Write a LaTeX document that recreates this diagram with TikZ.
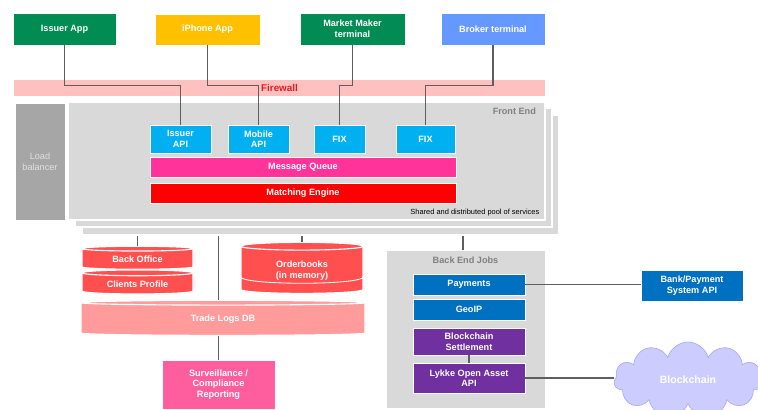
\documentclass[tikz,border=0pt]{standalone}
\usepackage{fontspec}
\setmainfont{Liberation Sans}
\usetikzlibrary{shapes.geometric,shapes.symbols}
\definecolor{appgreen}{HTML}{008C52}
\definecolor{appyellow}{HTML}{FFC000}
\definecolor{appblue}{HTML}{6699FF}
\definecolor{fwpink}{HTML}{FFC0C0}
\definecolor{fwtext}{HTML}{E31B23}
\definecolor{lbgray}{HTML}{A6A6A6}
\definecolor{fegray}{HTML}{D9D9D9}
\definecolor{apicyan}{HTML}{00B0F0}
\definecolor{mqpink}{HTML}{FF3399}
\definecolor{mered}{HTML}{FF0000}
\definecolor{dbred}{HTML}{FF4F4F}
\definecolor{dblight}{HTML}{FF9B9B}
\definecolor{survpink}{HTML}{FF5E9E}
\definecolor{jobblue}{HTML}{0070C0}
\definecolor{jobpurple}{HTML}{7030A0}
\definecolor{cloudfill}{HTML}{CCCCFF}
\definecolor{wire}{HTML}{5F5F5F}
\newcommand{\pxu}{0.025cm}

\begin{document}
\begin{tikzpicture}[x=0.025cm,y=-0.025cm,
  box/.style={draw=white,line width=0.6pt,text=white,align=center,inner sep=1pt,
    font=\fontsize{6.5}{7.5}\selectfont\bfseries},
  db/.style={box,line width=0.8pt,cylinder,shape border rotate=90,cylinder uses custom fill,
    cylinder body fill=#1,cylinder end fill=#1},
  layer/.style={draw=white,line width=1pt,fill=fegray},
  link/.style={draw=wire,line width=1.2pt}]
\useasboundingbox (0,0) rectangle (758,409);

\node[box,fill=appgreen,minimum width=103*\pxu,minimum height=32*\pxu] (issuerapp) at (64.5,29) {Issuer App};
\node[box,fill=appyellow,minimum width=105*\pxu,minimum height=31*\pxu] (iphoneapp) at (207.5,29.5) {iPhone App};
\node[box,fill=appgreen,minimum width=105*\pxu,minimum height=32*\pxu] (mmterm) at (352.5,29) {Market Maker\\terminal};
\node[box,fill=appblue,minimum width=104*\pxu,minimum height=32*\pxu] (brokerterm) at (493,29) {Broker terminal};

\node[box,draw=none,fill=fwpink,text=fwtext,font=\fontsize{7}{8}\selectfont\bfseries,minimum width=531*\pxu,minimum height=16*\pxu] (firewall) at (279.5,88) {Firewall};

\node[box,fill=lbgray,text=fegray!80!white,font=\fontsize{6.5}{8}\selectfont,minimum width=50*\pxu,minimum height=117*\pxu] (lb) at (40,161.5) {Load\\balancer};

\node[layer,minimum width=477*\pxu,minimum height=120*\pxu] (fe3) at (320.5,175) {};
\node[layer,minimum width=477*\pxu,minimum height=119*\pxu] (fe2) at (313.5,167.5) {};
\node[layer,minimum width=477*\pxu,minimum height=118*\pxu] (fe) at (306.5,161) {};
\node[text=gray,font=\fontsize{6.5}{7.5}\selectfont\bfseries,anchor=north east,inner sep=2pt] (fetitle) at (539,105) {Front End};
\node[font=\fontsize{5.3}{6}\selectfont,anchor=east,inner sep=1pt] (pool) at (541,213) {Shared and distributed pool of services};

\node[box,fill=apicyan,minimum width=61*\pxu,minimum height=28*\pxu] (issuerapi) at (180.5,139) {Issuer\\API};
\node[box,fill=apicyan,minimum width=61*\pxu,minimum height=28*\pxu] (mobileapi) at (258.5,139) {Mobile\\API};
\node[box,fill=apicyan,minimum width=51*\pxu,minimum height=28*\pxu] (fixa) at (339.5,139) {FIX};
\node[box,fill=apicyan,minimum width=59*\pxu,minimum height=28*\pxu] (fixb) at (425.5,139) {FIX};
\node[box,fill=mqpink,minimum width=306*\pxu,minimum height=20*\pxu] (mq) at (303,167) {Message Queue};
\node[box,fill=mered,minimum width=306*\pxu,minimum height=20*\pxu] (me) at (303,193) {Matching Engine};

\draw[link] (issuerapp.south) -- ++(0,40) -| (issuerapi.north);
\draw[link] (iphoneapp.south) -- ++(0,40) -| (mobileapi.north);
\draw[link] (mmterm.south) -- ++(0,40) -| (fixa.north);
\draw[link] (brokerterm.south) -- ++(0,40) -| (fixb.north);

\node[db=dbred,aspect=0.09,minimum width=111*\pxu,minimum height=23*\pxu] (backoffice) at (137.5,259.5) {Back Office};
\node[db=dbred,aspect=0.09,minimum width=111*\pxu,minimum height=24*\pxu] (clients) at (137.5,284) {Clients Profile};
\node[db=dbred,aspect=0.14,minimum width=122*\pxu,minimum height=51*\pxu] (orderbooks) at (302,270.5) {Orderbooks\\(in memory)};
\draw[white,line width=0.6pt] ([yshift=13*\pxu]orderbooks.before bottom) .. controls +(0,-9*\pxu) and +(0,-9*\pxu) .. ([yshift=13*\pxu]orderbooks.after bottom);
\node[db=dblight,aspect=0.07,minimum width=284*\pxu,minimum height=35*\pxu] (tradelogs) at (223,319.5) {Trade Logs DB};
\node[box,fill=survpink,minimum width=113*\pxu,minimum height=49*\pxu] (surv) at (218.5,384.5) {Surveillance /\\Compliance\\Reporting};

\node[layer,line width=0.6pt,minimum width=159*\pxu,minimum height=158*\pxu] (bej) at (465.5,329) {};
\node[text=gray,font=\fontsize{6.5}{7.5}\selectfont\bfseries,inner sep=1pt] (bejtitle) at (465.5,260) {Back End Jobs};
\node[box,fill=jobblue,minimum width=112*\pxu,minimum height=21*\pxu] (payments) at (469,284.5) {Payments};
\node[box,fill=jobblue,minimum width=112*\pxu,minimum height=21*\pxu] (geoip) at (469,309.5) {GeoIP};
\node[box,fill=jobpurple,minimum width=112*\pxu,minimum height=27*\pxu] (settle) at (469,341.5) {Blockchain\\Settlement};
\node[box,fill=jobpurple,minimum width=112*\pxu,minimum height=30*\pxu] (lykke) at (469,378) {Lykke Open Asset\\API};

\node[box,fill=jobblue,minimum width=102*\pxu,minimum height=31*\pxu] (bank) at (692,285.5) {Bank/Payment\\System API};
\node[cloud,cloud puffs=11,aspect=2.1,draw=cloudfill!80!blue,fill=cloudfill,text=white,
  font=\fontsize{7.5}{8.5}\selectfont\bfseries,minimum width=148*\pxu,minimum height=76*\pxu] (chain) at (688,380) {Blockchain};

\draw[link] (backoffice.top |- fe3.south) -- (backoffice.top);
\draw[link] (fe3.south -| surv.north) -- (tradelogs.top -| surv.north);
\draw[link] (orderbooks.top |- fe3.south) -- (orderbooks.top);
\draw[link] (fe3.south -| 463,0) -- (bej.north -| 463,0);
\draw[link] (tradelogs.bottom -| surv.north) -- (surv.north);
\draw[link] (payments.east) -- (payments.east -| bank.west);
\draw[link,line width=0.8pt] (settle.south) -- (lykke.north);
\draw[link] (lykke.east) -- (lykke.east -| chain.west);
\end{tikzpicture}
\end{document}
